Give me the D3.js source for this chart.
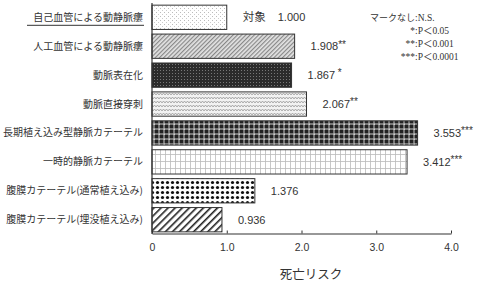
<!DOCTYPE html>
<html lang="ja">
<head>
<meta charset="UTF-8">
<script src="https://d3js.org/d3.v7.min.js"></script>
<style>
  body { margin: 0; background: #fff; }
  svg { display: block; }
  text { fill: #333; }
  .jp { font-family: "Noto Sans CJK JP", sans-serif; }
  .num { font-family: "Liberation Sans", Arial, sans-serif; }
  .serif { font-family: "Liberation Serif", "Noto Sans CJK JP", serif; }
</style>
</head>
<body>
<svg id="chart" width="481" height="283"></svg>
<script>
const categories = [
  "自己血管による動静脈瘻",
  "人工血管による動静脈瘻",
  "動脈表在化",
  "動脈直接穿刺",
  "長期植え込み型静脈カテーテル",
  "一時的静脈カテーテル",
  "腹膜カテーテル(通常植え込み)",
  "腹膜カテーテル(埋没植え込み)"
];
const values = [1.000, 1.908, 1.867, 2.067, 3.553, 3.412, 1.376, 0.936];
const valueText = ["1.000", "1.908", "1.867", "2.067", "3.553", "3.412", "1.376", "0.936"];
const marks = ["", "**", " *", "**", "***", "***", "", ""];
const prefixes = ["対象", "", "", "", "", "", "", ""];
const patterns = ["dots", "hatchFine", "darkDots", "zigzag", "checker", "grid", "bigDots", "hatchBold"];
const xTicks = [0, 1, 2, 3, 4];
const xTickLabels = ["0", "1.0", "2.0", "3.0", "4.0"];
const legendLeft = ["マークなし", "*", "**", "***"];
const legendRight = [":N.S.", ":P＜0.05", ":P＜0.001", ":P＜0.0001"];

const svg = d3.select("#chart");
const x = d3.scaleLinear().domain([0, 4]).range([152, 451]);
const y = d3.scaleBand().domain(categories).range([4, 233]).paddingInner(0.16).paddingOuter(0.04);

// fill patterns
const defs = svg.append("defs");
function pat(id, w, h) {
  return defs.append("pattern").attr("id", id).attr("patternUnits", "userSpaceOnUse")
    .attr("width", w).attr("height", h);
}
let p = pat("dots", 4, 4);
p.append("rect").attr("width", 4).attr("height", 4).attr("fill", "#fff");
p.append("rect").attr("x", 0).attr("y", 0).attr("width", 1).attr("height", 1).attr("fill", "#bbb");
p.append("rect").attr("x", 2).attr("y", 2).attr("width", 1).attr("height", 1).attr("fill", "#ccc");

p = pat("hatchFine", 3, 3).attr("patternTransform", "rotate(45)");
p.append("rect").attr("width", 3).attr("height", 3).attr("fill", "#e4e4e4");
p.append("rect").attr("width", 1.2).attr("height", 3).attr("fill", "#888");

p = pat("darkDots", 3, 3);
p.append("rect").attr("width", 3).attr("height", 3).attr("fill", "#2b2b2b");
p.append("rect").attr("x", 1).attr("y", 1).attr("width", 1).attr("height", 1).attr("fill", "#777");

p = pat("zigzag", 6, 4);
p.append("rect").attr("width", 6).attr("height", 4).attr("fill", "#f2f2f2");
p.append("path").attr("d", "M0,3 L1.5,1 L3,3 L4.5,1 L6,3").attr("fill", "none").attr("stroke", "#999").attr("stroke-width", 0.8);

p = pat("checker", 5, 5);
p.append("rect").attr("width", 5).attr("height", 5).attr("fill", "#777");
p.append("rect").attr("x", 0).attr("y", 0).attr("width", 3).attr("height", 3).attr("fill", "#222");
p.append("rect").attr("x", 3.5).attr("y", 3.5).attr("width", 1.3).attr("height", 1.3).attr("fill", "#fff");

p = pat("grid", 5, 7);
p.append("rect").attr("width", 5).attr("height", 7).attr("fill", "#fff");
p.append("rect").attr("x", 0).attr("width", 0.8).attr("height", 7).attr("fill", "#bbb");
p.append("rect").attr("y", 0).attr("width", 5).attr("height", 0.8).attr("fill", "#bbb");

p = pat("bigDots", 5, 5);
p.append("rect").attr("width", 5).attr("height", 5).attr("fill", "#fff");
p.append("circle").attr("cx", 2.5).attr("cy", 2.5).attr("r", 1.6).attr("fill", "#111");

p = pat("hatchBold", 5, 5).attr("patternTransform", "rotate(45)");
p.append("rect").attr("width", 5).attr("height", 5).attr("fill", "#fff");
p.append("rect").attr("width", 1.6).attr("height", 5).attr("fill", "#222");

// bars
svg.selectAll("rect.bar").data(categories).enter().append("rect")
  .attr("class", "bar")
  .attr("x", x(0))
  .attr("y", d => y(d))
  .attr("width", (d, i) => x(values[i]) - x(0))
  .attr("height", y.bandwidth())
  .attr("fill", (d, i) => `url(#${patterns[i]})`)
  .attr("stroke", "#333")
  .attr("stroke-width", 1);

// category labels
svg.selectAll("text.cat").data(categories).enter().append("text")
  .attr("class", "cat jp")
  .attr("x", 143)
  .attr("y", d => y(d) + y.bandwidth() / 2)
  .attr("dy", "0.35em")
  .attr("text-anchor", "end")
  .attr("font-size", 10)
  .attr("fill", "#444")
  .text(d => d);

// underline on the reference category
svg.append("line")
  .attr("x1", 27).attr("x2", 144)
  .attr("y1", y(categories[0]) + y.bandwidth() / 2 + 8)
  .attr("y2", y(categories[0]) + y.bandwidth() / 2 + 8)
  .attr("stroke", "#333").attr("stroke-width", 1);

// value labels
const vl = svg.selectAll("text.val").data(categories).enter().append("text")
  .attr("class", "val num")
  .attr("x", (d, i) => x(values[i]) + 16)
  .attr("y", d => y(d) + y.bandwidth() / 2)
  .attr("dy", "0.35em")
  .attr("font-size", 11);
vl.append("tspan").attr("class", "jp").attr("font-size", 11.5).text((d, i) => prefixes[i]);
vl.append("tspan").attr("dx", (d, i) => prefixes[i] ? 12 : 0).text((d, i) => valueText[i]);
vl.append("tspan").attr("font-size", 10).attr("dy", "-0.25em").text((d, i) => marks[i]);

// axes
const xAxis = d3.axisBottom(x).tickValues(xTicks).tickSize(0).tickPadding(10)
  .tickFormat((d, i) => xTickLabels[i]);
const gx = svg.append("g").attr("transform", "translate(0,233.5)").call(xAxis);
gx.select(".domain").attr("stroke", "#333").attr("stroke-width", 1.2);
gx.selectAll(".tick text").attr("class", "num").attr("font-size", 10.5).attr("fill", "#333");
gx.selectAll(".tick").append("line").attr("y1", 0).attr("y2", -3).attr("stroke", "#333");
gx.selectAll(".tick").filter(d => d === 0).select("line").remove();

svg.append("line")
  .attr("x1", x(0)).attr("x2", x(0))
  .attr("y1", 3).attr("y2", 234)
  .attr("stroke", "#333").attr("stroke-width", 1.2);

svg.append("text")
  .attr("class", "jp")
  .attr("x", 311).attr("y", 275)
  .attr("dy", "0.35em")
  .attr("text-anchor", "middle")
  .attr("font-size", 12.5)
  .text("死亡リスク");

// significance legend
const lg = svg.append("g").attr("class", "serif").attr("font-size", 9.5);
legendLeft.forEach((t, i) => {
  lg.append("text").attr("x", 415).attr("y", 18 + i * 13).attr("dy", "0.35em")
    .attr("text-anchor", "end").attr("class", i === 0 ? "jp" : "serif")
    .attr("font-size", i === 0 ? 9 : 9.5).text(t);
  lg.append("text").attr("x", 415).attr("y", 18 + i * 13).attr("dy", "0.35em")
    .attr("class", "serif").text(legendRight[i]);
});
</script>
</body>
</html>
